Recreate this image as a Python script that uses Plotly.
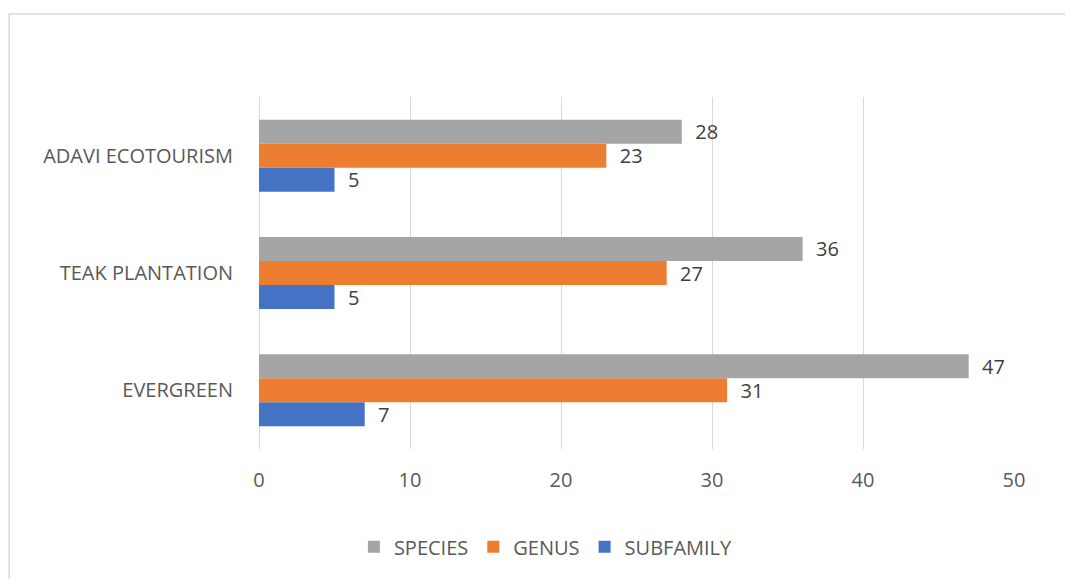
import plotly.graph_objects as go

categories = ["EVERGREEN", "TEAK PLANTATION", "ADAVI ECOTOURISM"]
species = [47, 36, 28]
genus = [31, 27, 23]
subfamily = [7, 5, 5]
x_ticks = [0, 10, 20, 30, 40, 50]

FONT = "Open Sans"
FS = 20
fig = go.Figure()
series = [("SUBFAMILY", subfamily, "#4472C4"),
          ("GENUS", genus, "#ED7D31"),
          ("SPECIES", species, "#A5A5A5")]
for name, vals, col in series:
    fig.add_trace(go.Bar(
        y=categories, x=vals, name=name, orientation="h",
        marker=dict(color=col, line=dict(width=0)),
        text=vals, texttemplate="\u00a0\u00a0%{x}", textposition="outside",
        constraintext="none", cliponaxis=False,
        textfont=dict(family=FONT, size=FS, color="#404040"),
    ))

fig.update_layout(
    width=1065, height=579,
    margin=dict(l=259, r=51, t=97, b=130),
    paper_bgcolor="white", plot_bgcolor="white",
    barmode="group", bargap=0.386, bargroupgap=0,
    font=dict(family=FONT, size=FS, color="#595959"),
    showlegend=True,
    legend=dict(orientation="h", x=0.38, xanchor="center", y=-0.278, yanchor="middle",
                traceorder="reversed", font=dict(family=FONT, size=FS, color="#595959")),
    xaxis=dict(range=[0, 50], tickvals=x_ticks, showgrid=True, gridcolor="#D9D9D9", gridwidth=1.3,
               zeroline=True, zerolinecolor="#D9D9D9", zerolinewidth=1.3, showline=False,
               ticks="", ticklabelstandoff=17, fixedrange=True),
    yaxis=dict(categoryorder="array", categoryarray=categories, showgrid=False, zeroline=False,
               showline=False, ticks="", ticklabelstandoff=25),
    shapes=[dict(type="rect", xref="paper", yref="paper", x0=-0.331, x1=1.075, y0=-0.39, y1=1.236,
                 line=dict(color="#D9D9D9", width=1.5), fillcolor="rgba(0,0,0,0)", layer="below")],
)

fig.write_html("out.html")
